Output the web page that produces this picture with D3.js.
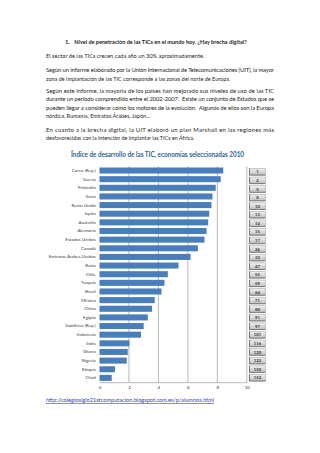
<!DOCTYPE html>
<html><head><meta charset="utf-8">
<script src="https://cdn.jsdelivr.net/npm/d3@7"></script>
<style>html,body{margin:0;padding:0;background:#fff;}svg{display:block;}</style>
</head><body>
<script>
const categories = ["Corea (Rep.)","Suecia","Finlandia","Suiza","Reino Unido","Japón","Australia","Alemania","Estados Unidos","Canadá","Emiratos Árabes Unidos","Rusia","Chile","Turquía","Brasil","México","China","Egipto","Sudáfrica (Rep.)","Indonesia","India","Ghana","Nigeria","Etiopía","Chad"];
const values = [8.40,8.23,7.89,7.67,7.60,7.45,7.38,7.27,7.13,6.68,6.18,5.36,4.64,4.41,4.21,3.75,3.57,3.28,3.00,2.82,2.03,1.92,1.85,1.05,0.83];
const ranks = [1,2,5,8,10,13,14,15,17,26,32,47,55,59,64,71,80,91,97,101,116,120,122,150,152];
const xTicks = [0,2,4,6,8,10];
const chartTitle = "Índice de desarrollo de las TIC, economías seleccionadas 2010";
const heading = "Nivel de penetración de las TICs en el mundo hoy. ¿Hay brecha digital?";
const paragraphs = [
  ["El sector de las TICs crecen cada año un 30% aproximadamente."],
  ["Según un informe elaborado por la Unión Internacional de Telecomunicaciones (UIT), la mayor",
   "zona de implantación de las TIC corresponde a las zonas del norte de Europa."],
  ["Según este informe, la mayoría de los países han mejorado sus niveles de uso de las TIC",
   "durante un periodo comprendido entre el 2002-2007.  Existe un conjunto de Estados que se",
   "pueden llegar a considerar como los motores de la evolución.  Algunos de ellos son la Europa",
   "nórdica, Rumanía, Emiratos Árabes, Japón…"],
  ["En cuanto a la brecha digital, la UIT elaboró un plan Marshall en las regiones más",
   "desfavorecidas con la intención de implantar las TICs en África."]
];
const linkText = "http://colegiosiglo21stcomputacion.blogspot.com.es/p/alumnos.html";

const W = 320, H = 453;
const FONT = "Lato, 'Open Sans', sans-serif";
const svg = d3.select("body").append("svg").attr("width", W).attr("height", H)
  .style("font-family", FONT);

// ---- document text ----
const textColor = "#262626";
const left = 46, right = 274;
svg.append("text").attr("x", 65).attr("y", 44.3).attr("font-size", 5.9)
  .attr("font-weight", "bold").attr("fill", textColor).text("1.");
svg.append("text").attr("x", 74.3).attr("y", 44.3).attr("font-size", 5.9)
  .attr("font-weight", "bold").attr("fill", textColor)
  .attr("textLength", 172.4).attr("lengthAdjust", "spacingAndGlyphs").text(heading);

// baselines and end x for each line (justified lines end at right margin)
const lineLayout = [
  [[58, 204.3]],
  [[72.3, right], [80.7, 230.3]],
  [[93, right], [101.3, right], [109.7, right], [118, 150.3]],
  [[132, right], [140.3, 194.3]]
];
paragraphs.forEach((p, pi) => {
  p.forEach((line, li) => {
    const [y, x1] = lineLayout[pi][li];
    svg.append("text").attr("x", left).attr("y", y).attr("font-size", 5.9)
      .attr("fill", textColor).attr("textLength", x1 - left)
      .attr("lengthAdjust", x1 === right ? "spacing" : "spacingAndGlyphs")
      .style("white-space", "pre").text(line);
  });
});

svg.append("text").attr("x", left).attr("y", 402).attr("font-size", 5.9)
  .attr("fill", "#3333ee").attr("text-decoration", "underline")
  .attr("textLength", 214 - left).attr("lengthAdjust", "spacingAndGlyphs").text(linkText);

// ---- chart ----
svg.append("text").attr("x", 157.5).attr("y", 156.6).attr("text-anchor", "middle")
  .attr("font-size", 6.6).attr("font-weight", "bold").attr("fill", "#2F6290")
  .attr("textLength", 173).attr("lengthAdjust", "spacingAndGlyphs").text(chartTitle);

const x = d3.scaleLinear().domain([0, 10]).range([99.5, 246.8]);
const y = d3.scaleBand().domain(categories).range([166.2, 382.2]).paddingInner(0.3).paddingOuter(0.15);

// gridlines
svg.append("g").selectAll("line").data(xTicks.filter(d => d > 0)).join("line")
  .attr("x1", d => x(d)).attr("x2", d => x(d))
  .attr("y1", 166.2).attr("y2", 382.2)
  .attr("stroke", "#a6a6a6").attr("stroke-width", 0.8);

// bars
svg.append("g").selectAll("rect").data(values).join("rect")
  .attr("x", x(0)).attr("y", (d, i) => y(categories[i]))
  .attr("width", d => x(d) - x(0)).attr("height", y.bandwidth())
  .attr("fill", "#4A7EBB");

// x axis
const xAxis = svg.append("g").attr("transform", "translate(0,382.2)")
  .call(d3.axisBottom(x).tickValues(xTicks).tickSize(0).tickPadding(3.5).tickFormat(d3.format("d")));
xAxis.select(".domain").attr("stroke", "#a6a6a6").attr("stroke-width", 0.8);
xAxis.selectAll("text").attr("font-size", 4.6).attr("fill", "#404040").style("font-family", FONT);

// y axis labels
const yAxis = svg.append("g").attr("transform", `translate(${x(0)},0)`)
  .call(d3.axisLeft(y).tickSize(0).tickPadding(3.8));
yAxis.select(".domain").remove();
yAxis.selectAll("text").attr("font-size", 4.5).attr("fill", "#404040").style("font-family", FONT);

// rank boxes
const r = d3.scaleBand().domain(ranks.map(String)).range([167.5, 382]);
const defs = svg.append("defs");
const grad = defs.append("linearGradient").attr("id", "btn").attr("x1", 0).attr("x2", 0).attr("y1", 0).attr("y2", 1);
grad.append("stop").attr("offset", "0%").attr("stop-color", "#f2f2f2");
grad.append("stop").attr("offset", "100%").attr("stop-color", "#bfbfbf");
const boxes = svg.append("g").selectAll("g").data(ranks).join("g")
  .attr("transform", d => `translate(249.5,${r(String(d)) + r.bandwidth() / 2 - 3.3})`);
boxes.append("rect").attr("width", 16).attr("height", 6.6)
  .attr("fill", "url(#btn)").attr("stroke", "#9a9a9a").attr("stroke-width", 0.5);
boxes.append("line").attr("x1", 0).attr("x2", 16).attr("y1", 6.6).attr("y2", 6.6)
  .attr("stroke", "#595959").attr("stroke-width", 0.7);
boxes.append("line").attr("x1", 0).attr("x2", 0).attr("y1", 0).attr("y2", 6.6)
  .attr("stroke", "#595959").attr("stroke-width", 0.7);
boxes.append("text").attr("x", 8).attr("y", 4.9).attr("text-anchor", "middle")
  .attr("font-size", 4.2).attr("font-weight", "bold").attr("fill", "#333").text(d => d);
</script>
</body></html>
